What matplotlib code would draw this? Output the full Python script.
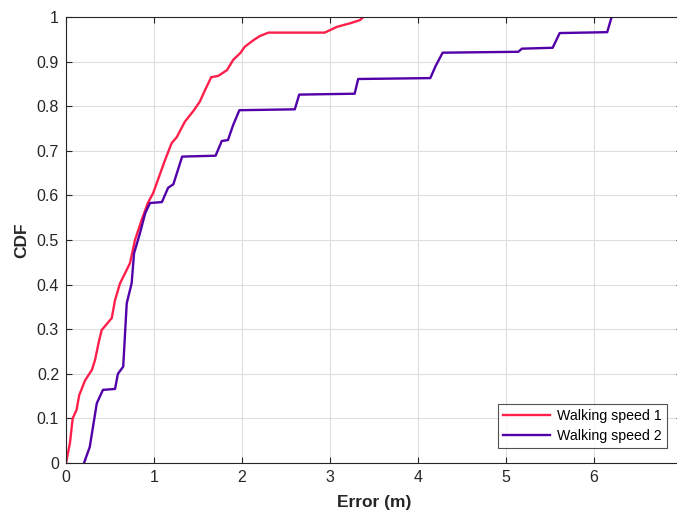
import numpy as np
import matplotlib.pyplot as plt

plt.rcParams['font.family'] = ['Liberation Sans', 'DejaVu Sans']

# traced CDF curves (error in m, cumulative probability)
speed1_x = [0.0, 0.045, 0.076, 0.12, 0.15, 0.216, 0.295, 0.33, 0.37, 0.405,
            0.52, 0.557, 0.614, 0.67, 0.727, 0.784, 0.86, 0.93, 0.99, 1.125,
            1.2, 1.26, 1.35, 1.45, 1.52, 1.58, 1.65, 1.73, 1.83, 1.9, 1.98,
            2.03, 2.13, 2.2, 2.3, 2.94, 3.08, 3.23, 3.34, 3.38]
speed1_y = [0.0, 0.045, 0.1, 0.119, 0.152, 0.185, 0.209, 0.231, 0.269, 0.298,
            0.325, 0.365, 0.403, 0.425, 0.448, 0.5, 0.545, 0.583, 0.605, 0.679,
            0.717, 0.731, 0.765, 0.79, 0.81, 0.836, 0.865, 0.868, 0.881, 0.904,
            0.919, 0.933, 0.948, 0.957, 0.965, 0.965, 0.978, 0.986, 0.993, 1.0]

speed2_x = [0.205, 0.27, 0.35, 0.42, 0.557, 0.59, 0.65, 0.69, 0.746, 0.773,
            0.84, 0.9, 0.955, 1.09, 1.16, 1.22, 1.32, 1.7, 1.77, 1.84, 1.9,
            1.97, 2.6, 2.65, 3.28, 3.32, 4.14, 4.2, 4.28, 5.14, 5.18, 5.53,
            5.61, 6.15, 6.2]
speed2_y = [0.0, 0.036, 0.134, 0.164, 0.166, 0.2, 0.216, 0.358, 0.403, 0.47,
            0.515, 0.56, 0.583, 0.585, 0.617, 0.625, 0.687, 0.689, 0.722,
            0.724, 0.758, 0.791, 0.793, 0.826, 0.828, 0.861, 0.863, 0.89,
            0.92, 0.922, 0.929, 0.931, 0.964, 0.966, 1.0]

x_ticks = np.arange(0, 8)
y_ticks = np.round(np.arange(0, 1.01, 0.1), 1)
y_tick_labels = ['0', '0.1', '0.2', '0.3', '0.4', '0.5', '0.6', '0.7', '0.8', '0.9', '1']

fig = plt.figure(figsize=(6.77, 5.12), dpi=100)
ax = fig.add_axes([66 / 677, 49 / 512, 616 / 677, 446 / 512])

ax.plot(speed1_x, speed1_y, color='#ff1f4b', linewidth=1.7, label='Walking speed 1')
ax.plot(speed2_x, speed2_y, color='#5200a8', linewidth=1.7, label='Walking speed 2')

ax.set_xlim(0, 7)
ax.set_ylim(0, 1)
ax.set_xticks(x_ticks)
ax.set_yticks(y_ticks)
ax.set_yticklabels(y_tick_labels)
ax.grid(True, color='#dedede', linewidth=0.8)
ax.set_axisbelow(True)
ax.tick_params(direction='in', length=4, labelsize=11.5, colors='#262626',
               top=True, right=True, pad=5)
for s in ax.spines.values():
    s.set_color('#262626')
    s.set_linewidth(0.8)

ax.set_xlabel('Error (m)', fontsize=12.5, fontweight='bold', color='#262626', labelpad=7)
ax.set_ylabel('CDF', fontsize=12.5, fontweight='bold', color='#262626', labelpad=5)

leg = ax.legend(loc='lower left', bbox_to_anchor=(432 / 616, 15 / 446),
                fontsize=10.2, fancybox=False, edgecolor='#262626',
                handlelength=3.3, borderpad=0.35, labelspacing=0.4,
                handletextpad=0.5, borderaxespad=0)
leg.get_frame().set_linewidth(0.8)

fig.savefig('out.png', dpi=100)
